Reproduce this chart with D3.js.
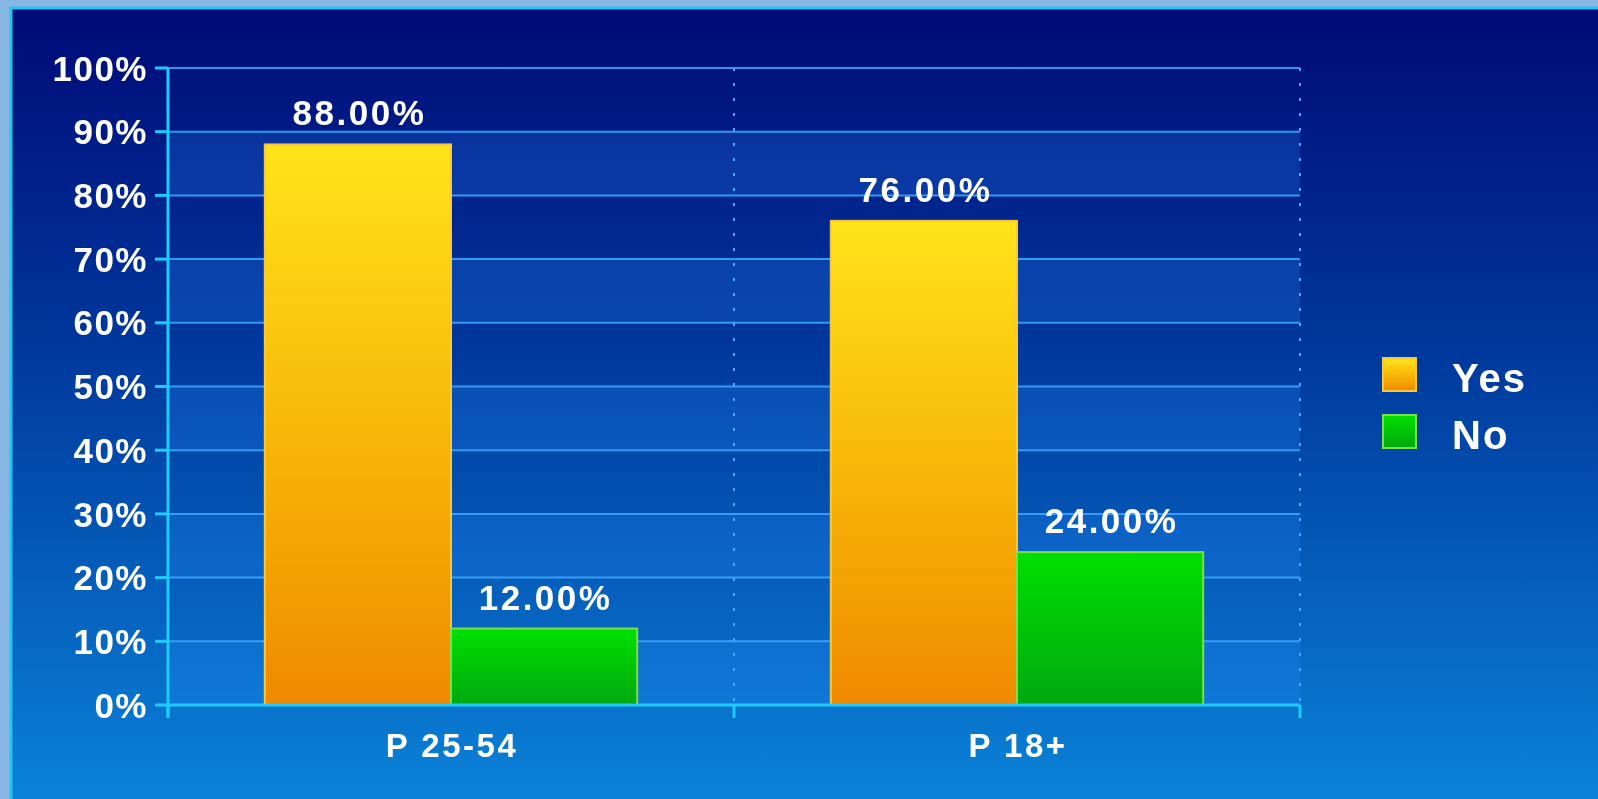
<!DOCTYPE html>
<html>
<head>
<meta charset="utf-8">
<script src="https://cdn.jsdelivr.net/npm/d3@7"></script>
<style>
  html, body { margin: 0; padding: 0; background: #86b6e2; overflow: hidden; }
  svg { display: block; }
  text { font-family: "Liberation Sans", Arial, sans-serif; font-weight: bold; fill: #ffffff; }
</style>
</head>
<body>
<script>
// Survey answers by audience group
const categories = ["P 25-54", "P 18+"];
const seriesNames = ["Yes", "No"];
const yesValues = [88, 76];
const noValues = [12, 24];
const yTicks = [0, 10, 20, 30, 40, 50, 60, 70, 80, 90, 100];
const yTickLabels = ["0%", "10%", "20%", "30%", "40%", "50%", "60%", "70%", "80%", "90%", "100%"];
const valueLabels = [["88.00%", "12.00%"], ["76.00%", "24.00%"]];

const W = 1598, H = 799;
const svg = d3.select("body").append("svg").attr("width", W).attr("height", H);
const defs = svg.append("defs");

// background panel gradient
const bg = defs.append("linearGradient").attr("id", "bg").attr("x1", 0).attr("y1", 0).attr("x2", 0).attr("y2", 1);
bg.append("stop").attr("offset", 0).attr("stop-color", "#000a78");
bg.append("stop").attr("offset", 0.45).attr("stop-color", "#003a9e");
bg.append("stop").attr("offset", 1).attr("stop-color", "#0a82d8");

const gYes = defs.append("linearGradient").attr("id", "gYes").attr("x1", 0).attr("y1", 0).attr("x2", 0).attr("y2", 1);
gYes.append("stop").attr("offset", 0).attr("stop-color", "#ffe41a");
gYes.append("stop").attr("offset", 0.5).attr("stop-color", "#f8b808");
gYes.append("stop").attr("offset", 1).attr("stop-color", "#f08a00");

const gNo = defs.append("linearGradient").attr("id", "gNo").attr("x1", 0).attr("y1", 0).attr("x2", 0).attr("y2", 1);
gNo.append("stop").attr("offset", 0).attr("stop-color", "#00e000");
gNo.append("stop").attr("offset", 1).attr("stop-color", "#00a810");

const glow = defs.append("filter").attr("id", "soft").attr("x", "-5%").attr("y", "-20%").attr("width", "110%").attr("height", "140%");
glow.append("feGaussianBlur").attr("stdDeviation", 0.6);

// panel
svg.append("rect").attr("x", 10).attr("y", 7).attr("width", W - 10).attr("height", H - 7).attr("fill", "url(#bg)");
svg.append("line").attr("x1", 11).attr("x2", 11).attr("y1", 7).attr("y2", H).attr("stroke", "#22c4f4").attr("stroke-width", 3);
svg.append("line").attr("x1", 10).attr("x2", W).attr("y1", 8).attr("y2", 8).attr("stroke", "#22c4f4").attr("stroke-width", 3);

const plotLeft = 168, plotRight = 1300, plotTop = 68, plotBottom = 705;
const y = d3.scaleLinear().domain([0, 100]).range([plotBottom, plotTop]);
const x0 = d3.scaleBand().domain(categories).range([plotLeft, plotRight]).paddingInner(0).paddingOuter(0);
const x1 = d3.scaleBand().domain(seriesNames).range([0, x0.bandwidth()]).paddingInner(0).paddingOuter(0.52);

// alternating bands
const bands = yTicks.slice(0, -1).filter((d, i) => i % 2 === 0);
svg.append("g").selectAll("rect").data(bands).join("rect")
  .attr("x", plotLeft).attr("width", plotRight - plotLeft)
  .attr("y", d => y(d + 10)).attr("height", d => y(d) - y(d + 10))
  .attr("fill", "#2a8cff").attr("opacity", 0.22);

// gridlines
svg.append("g").selectAll("line").data(yTicks.slice(1)).join("line")
  .attr("x1", plotLeft).attr("x2", plotRight).attr("y1", d => y(d)).attr("y2", d => y(d))
  .attr("stroke", "#3eaaff").attr("stroke-width", 2).attr("opacity", 0.85);

// dotted category separators
svg.append("g").selectAll("line").data(categories).join("line")
  .attr("x1", d => x0(d) + x0.bandwidth()).attr("x2", d => x0(d) + x0.bandwidth())
  .attr("y1", plotTop).attr("y2", plotBottom)
  .attr("stroke", "#4aa8ff").attr("stroke-width", 2).attr("stroke-dasharray", "3,12");

// bars
const rows = categories.map((c, i) => ({ cat: c, vals: [yesValues[i], noValues[i]], labels: valueLabels[i] }));
const grp = svg.append("g").selectAll("g").data(rows).join("g")
  .attr("transform", d => `translate(${x0(d.cat)},0)`);
grp.selectAll("rect").data(d => d.vals.map((v, j) => ({ s: seriesNames[j], v }))).join("rect")
  .attr("x", d => x1(d.s)).attr("width", x1.bandwidth())
  .attr("y", d => y(d.v)).attr("height", d => y(0) - y(d.v))
  .attr("fill", d => d.s === "Yes" ? "url(#gYes)" : "url(#gNo)")
  .attr("stroke", d => d.s === "Yes" ? "#f7c83a" : "#7be04a").attr("stroke-width", 2);
grp.selectAll("text").data(d => d.vals.map((v, j) => ({ s: seriesNames[j], v, t: d.labels[j] }))).join("text")
  .attr("x", d => x1(d.s) + x1.bandwidth() / 2 + 1.5).attr("y", d => y(d.v) - 19)
  .attr("text-anchor", "middle").attr("font-size", 35).attr("letter-spacing", 2.5)
  .attr("filter", "url(#soft)")
  .text(d => d.t);

// axes
const yAxis = svg.append("g");
yAxis.append("line").attr("x1", plotLeft).attr("x2", plotLeft).attr("y1", plotTop).attr("y2", plotBottom + 13)
  .attr("stroke", "#1ecbff").attr("stroke-width", 3);
yAxis.selectAll("line.tick").data(yTicks).join("line").attr("class", "tick")
  .attr("x1", plotLeft - 13).attr("x2", plotLeft).attr("y1", d => y(d)).attr("y2", d => y(d))
  .attr("stroke", "#1ecbff").attr("stroke-width", 3);
yAxis.selectAll("text").data(yTicks).join("text")
  .attr("x", 148).attr("y", d => y(d)).attr("dy", "0.36em")
  .attr("text-anchor", "end").attr("font-size", 35).attr("letter-spacing", 1.5)
  .attr("filter", "url(#soft)")
  .text((d, i) => yTickLabels[i]);

const xAxis = svg.append("g");
xAxis.append("line").attr("x1", plotLeft).attr("x2", plotRight).attr("y1", plotBottom).attr("y2", plotBottom)
  .attr("stroke", "#1ecbff").attr("stroke-width", 3);
const xTickPos = [plotLeft].concat(categories.map(c => x0(c) + x0.bandwidth()));
xAxis.selectAll("line.tick").data(xTickPos).join("line").attr("class", "tick")
  .attr("x1", d => d).attr("x2", d => d).attr("y1", plotBottom).attr("y2", plotBottom + 13)
  .attr("stroke", "#1ecbff").attr("stroke-width", 3);
xAxis.selectAll("text").data(categories).join("text")
  .attr("x", d => x0(d) + x0.bandwidth() / 2 + 1).attr("y", 745).attr("dy", "0.36em")
  .attr("text-anchor", "middle").attr("font-size", 33).attr("letter-spacing", 2.5)
  .attr("filter", "url(#soft)")
  .text(d => d);

// legend
const legend = svg.append("g").attr("transform", "translate(1383,358)");
const li = legend.selectAll("g").data(seriesNames).join("g")
  .attr("transform", (d, i) => `translate(0,${i * 57})`);
li.append("rect").attr("width", 33).attr("height", 33)
  .attr("fill", d => d === "Yes" ? "url(#gYes)" : "url(#gNo)")
  .attr("stroke", d => d === "Yes" ? "#f7c83a" : "#7be04a").attr("stroke-width", 2);
li.append("text").attr("x", 69).attr("y", 20).attr("dy", "0.36em")
  .attr("font-size", 40).attr("letter-spacing", 2).attr("filter", "url(#soft)").text(d => d);
</script>
</body>
</html>
